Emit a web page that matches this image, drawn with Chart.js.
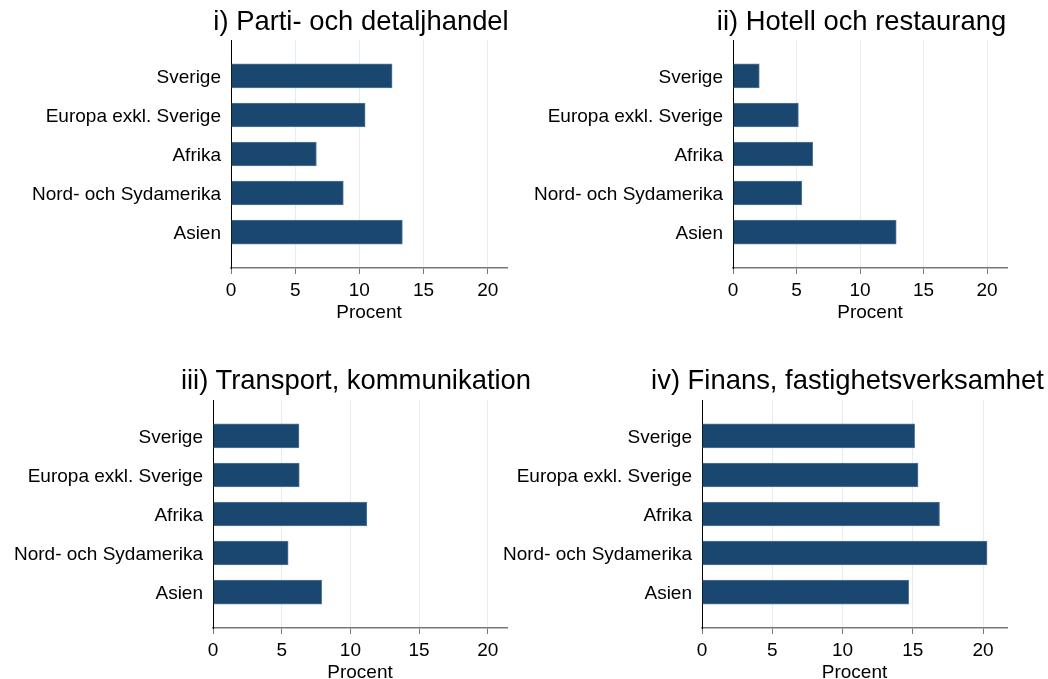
<!DOCTYPE html>
<html>
<head>
<meta charset="utf-8">
<script src="https://cdn.jsdelivr.net/npm/chart.js@4.4.1/dist/chart.umd.min.js"></script>
<style>
html, body { margin: 0; padding: 0; width: 1048px; height: 679px; overflow: hidden; background: #fff; }
canvas { position: absolute; }
.title { position: absolute; width: 600px; text-align: center; white-space: nowrap;
  font-family: 'Liberation Sans', Arial, Helvetica, sans-serif; font-size: 27.4px; line-height: 32px; color: #000; }
</style>
</head>
<body>
<canvas id="c1"></canvas>
<canvas id="c2"></canvas>
<canvas id="c3"></canvas>
<canvas id="c4"></canvas>
<script>
// regions, top to bottom
var categories = ['Sverige', 'Europa exkl. Sverige', 'Afrika', 'Nord- och Sydamerika', 'Asien'];

// percent per panel
var partiDetalj = [12.55, 10.45, 6.65, 8.75, 13.35];
var hotellRest  = [2.07, 5.15, 6.28, 5.42, 12.85];
var transport   = [6.26, 6.28, 11.2, 5.47, 7.91];
var finans      = [15.13, 15.37, 16.9, 20.28, 14.71];

var titles = ['i) Parti- och detaljhandel', 'ii) Hotell och restaurang',
              'iii) Transport, kommunikation', 'iv) Finans, fastighetsverksamhet'];
var xTicks = [0, 5, 10, 15, 20];
var xMax = [21.5, 21.57, 21.4, 21.7];
var xTitle = 'Procent';

var series = [partiDetalj, hotellRest, transport, finans];

// layout: canvas box [left, top, w, h], plot [left, top, right, bottom], title centre/top
var layout = [
  { box: [0, 0, 524, 345],     plot: [231, 40, 507, 268],  tx: 361, ty: 5 },
  { box: [500, 0, 548, 345],   plot: [733, 40, 1007, 268], tx: 861.5, ty: 5 },
  { box: [0, 340, 524, 345],   plot: [213, 400, 507, 628], tx: 356, ty: 364 },
  { box: [500, 340, 548, 345], plot: [702, 400, 1007, 628], tx: 847.5, ty: 364 }
];

Chart.defaults.font.family = "'Liberation Sans', Arial, Helvetica, sans-serif";
Chart.defaults.color = '#000';

var xAxisH = 56;

for (var p = 0; p < 4; p++) {
  var L = layout[p];
  var cv = document.getElementById('c' + (p + 1));
  cv.width = L.box[2];
  cv.height = L.box[3];
  cv.style.left = L.box[0] + 'px';
  cv.style.top = L.box[1] + 'px';

  var t = document.createElement('div');
  t.className = 'title';
  t.textContent = titles[p];
  t.style.left = (L.tx - 300) + 'px';
  t.style.top = L.ty + 'px';
  document.body.appendChild(t);

  var padTop = L.plot[1] - L.box[1];
  var plotH = L.plot[3] - L.plot[1];
  var yW = L.plot[0] - L.box[0];

  new Chart(cv, {
    type: 'bar',
    data: {
      datasets: [{
        data: series[p].map(function (v, i) { return { x: v, y: i }; }),
        backgroundColor: '#1a476f',
        borderColor: '#56789a',
        borderWidth: 1,
        barThickness: 24
      }]
    },
    options: {
      indexAxis: 'y',
      responsive: false,
      animation: false,
      layout: {
        padding: {
          left: 0,
          top: padTop,
          right: L.box[0] + L.box[2] - L.plot[2],
          bottom: L.box[3] - padTop - plotH - xAxisH
        }
      },
      plugins: { legend: { display: false }, tooltip: { enabled: false } },
      scales: {
        x: {
          type: 'linear',
          min: 0,
          max: xMax[p],
          afterFit: function (s) { s.height = xAxisH; },
          afterBuildTicks: function (s) { s.ticks = xTicks.map(function (v) { return { value: v }; }); },
          grid: { color: '#e4edf0', lineWidth: 1, tickColor: '#777', tickLength: 6 },
          border: { color: '#777', width: 1.5 },
          ticks: { font: { size: 19 }, padding: 5, color: '#000' },
          title: { display: true, text: xTitle, font: { size: 19 }, color: '#000', padding: 0 }
        },
        y: {
          type: 'linear',
          reverse: true,
          offset: false,
          min: -0.92,
          max: 4.92,
          afterFit: (function (w) { return function (s) { s.width = w; }; })(yW),
          afterBuildTicks: function (s) { s.ticks = categories.map(function (c, i) { return { value: i }; }); },
          grid: { display: false, drawTicks: false },
          border: { color: '#000', width: 1 },
          ticks: {
            font: { size: 19 }, padding: 10, color: '#000', labelOffset: 2,
            callback: function (v) { return categories[v]; }
          }
        }
      }
    }
  });
}
</script>
</body>
</html>
